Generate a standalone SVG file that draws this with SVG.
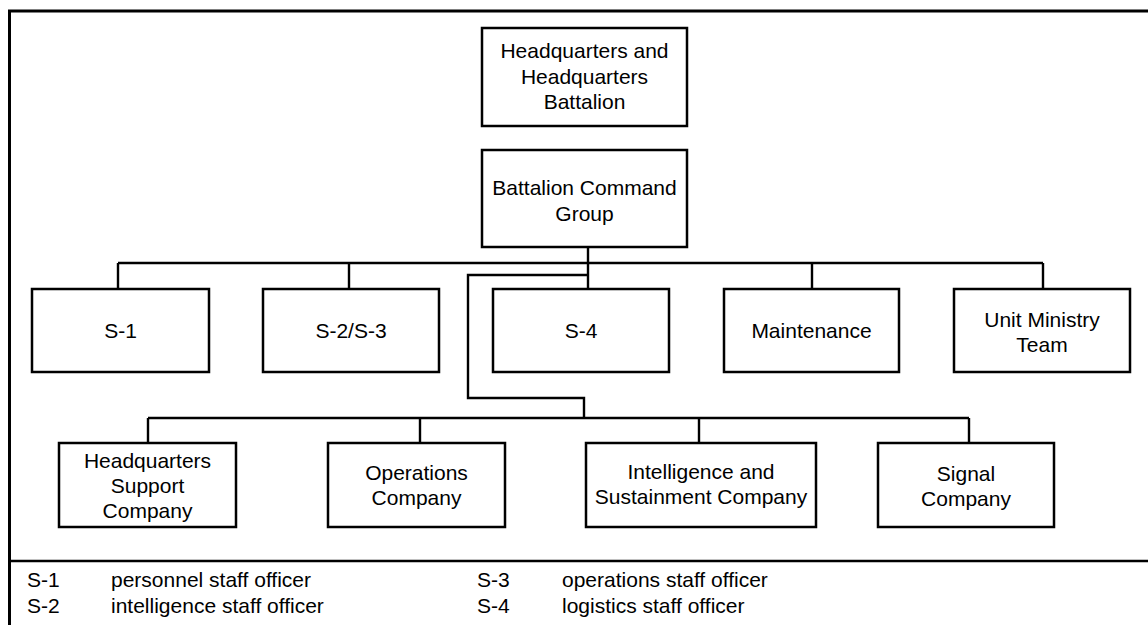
<svg xmlns="http://www.w3.org/2000/svg" width="1148" height="625" viewBox="0 0 1148 625">
  <style>
    .box { fill: #ffffff; stroke: #000000; stroke-width: 2.5; }
    .wire { fill: none; stroke: #000000; stroke-width: 2.4; }
    .lbl { font-family: "Liberation Sans", Arial, sans-serif; font-size: 21px; fill: #000000; text-anchor: middle; }
    .key { font-family: "Liberation Sans", Arial, sans-serif; font-size: 21px; fill: #000000; }
  </style>

  <rect width="1148" height="625" fill="#ffffff"/>

  <!-- outer frame and legend divider -->
  <g id="frame">
    <rect x="9.5" y="11" width="1150" height="630" fill="none" stroke="#000000" stroke-width="3"/>
    <line x1="9.5" y1="561" x2="1148" y2="561" stroke="#000000" stroke-width="2.4"/>
  </g>

  <!-- connectors -->
  <g id="connectors" class="wire">
    <path d="M588 247 V289"/>
    <path d="M118 263 H1043"/>
    <path d="M118 263 V289 M349 263 V289 M812 263 V289 M1043 263 V289"/>
    <path d="M588 275 H468 V398 H584 V418"/>
    <path d="M148 418 H969"/>
    <path d="M148 418 V443 M420 418 V443 M699 418 V443 M969 418 V443"/>
  </g>

  <g id="hhb">
    <rect class="box" x="482" y="28" width="205" height="98"/>
    <text class="lbl" x="584.5" y="58">Headquarters and</text>
    <text class="lbl" x="584.5" y="83.5">Headquarters</text>
    <text class="lbl" x="584.5" y="109">Battalion</text>
  </g>

  <g id="bcg">
    <rect class="box" x="482" y="150" width="205" height="97"/>
    <text class="lbl" x="584.5" y="195">Battalion Command</text>
    <text class="lbl" x="584.5" y="220.5">Group</text>
  </g>

  <g id="s1">
    <rect class="box" x="32" y="289" width="177" height="83"/>
    <text class="lbl" x="120.5" y="338">S-1</text>
  </g>

  <g id="s2s3">
    <rect class="box" x="263" y="289" width="176" height="83"/>
    <text class="lbl" x="351" y="338">S-2/S-3</text>
  </g>

  <g id="s4">
    <rect class="box" x="493" y="289" width="176" height="83"/>
    <text class="lbl" x="581" y="338">S-4</text>
  </g>

  <g id="maintenance">
    <rect class="box" x="724" y="289" width="175" height="83"/>
    <text class="lbl" x="811.5" y="338">Maintenance</text>
  </g>

  <g id="umt">
    <rect class="box" x="954" y="289" width="176" height="83"/>
    <text class="lbl" x="1042" y="326.5">Unit Ministry</text>
    <text class="lbl" x="1042" y="352">Team</text>
  </g>

  <g id="hsc">
    <rect class="box" x="59" y="443" width="177" height="84"/>
    <text class="lbl" x="147.5" y="467.5">Headquarters</text>
    <text class="lbl" x="147.5" y="493">Support</text>
    <text class="lbl" x="147.5" y="518">Company</text>
  </g>

  <g id="ops">
    <rect class="box" x="328" y="443" width="177" height="84"/>
    <text class="lbl" x="416.5" y="480">Operations</text>
    <text class="lbl" x="416.5" y="505">Company</text>
  </g>

  <g id="isc">
    <rect class="box" x="586" y="443" width="230" height="84"/>
    <text class="lbl" x="701" y="479">Intelligence and</text>
    <text class="lbl" x="701" y="504">Sustainment Company</text>
  </g>

  <g id="signal">
    <rect class="box" x="878" y="443" width="176" height="84"/>
    <text class="lbl" x="966" y="480.5">Signal</text>
    <text class="lbl" x="966" y="505.5">Company</text>
  </g>

  <!-- abbreviation key -->
  <g id="legend">
    <text class="key" x="27" y="587">S-1</text>
    <text class="key" x="111" y="587">personnel staff officer</text>
    <text class="key" x="27" y="613">S-2</text>
    <text class="key" x="111" y="613">intelligence staff officer</text>
    <text class="key" x="477" y="587">S-3</text>
    <text class="key" x="562" y="587">operations staff officer</text>
    <text class="key" x="477" y="613">S-4</text>
    <text class="key" x="562" y="613">logistics staff officer</text>
  </g>
</svg>
